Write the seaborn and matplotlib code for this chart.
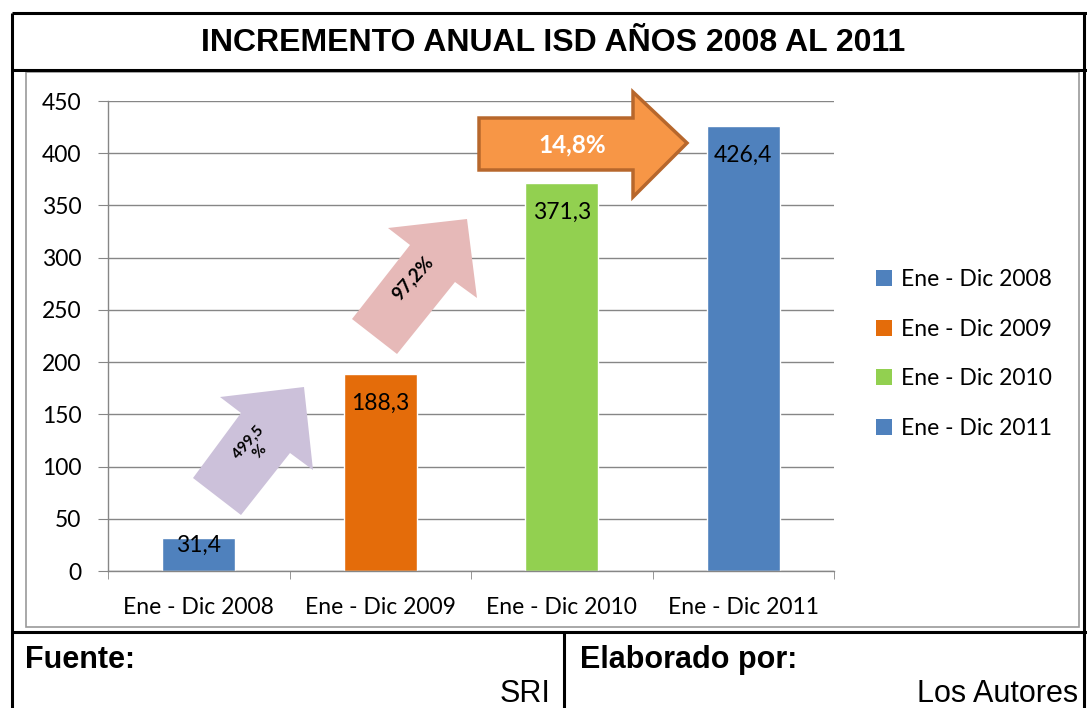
import numpy as np
import pandas as pd
import matplotlib
matplotlib.use('Agg')
import matplotlib.pyplot as plt
import seaborn as sns
from matplotlib.patches import Polygon, Rectangle, Patch

# datos del grafico
periodos = ['Ene - Dic 2008', 'Ene - Dic 2009', 'Ene - Dic 2010', 'Ene - Dic 2011']
isd = [31.4, 188.3, 371.3, 426.4]
etiquetas = ['31,4', '188,3', '371,3', '426,4']
colores = ['#4F81BD', '#E46C0A', '#92D050', '#4F81BD']
incrementos = ['499,5\n%', '97,2%', '14,8%']
y_ticks = [0, 50, 100, 150, 200, 250, 300, 350, 400, 450]

titulo = 'INCREMENTO ANUAL ISD AÑOS 2008 AL 2011'
fuente = ('Fuente:', 'SRI')
elaborado = ('Elaborado por:', 'Los Autores')

W, H = 1087, 708
GRIS = '#868686'
FS = 16.5

sns.set_style('white')
plt.rcParams['font.family'] = ['Lato', 'DejaVu Sans']
plt.rcParams['text.color'] = 'black'
plt.rcParams['xtick.color'] = 'black'
plt.rcParams['ytick.color'] = 'black'

fig = plt.figure(figsize=(W / 100, H / 100), dpi=100)
fig.patch.set_facecolor('white')

# area del grafico (pixeles 108..834 en x, 101..571 en y)
ax = fig.add_axes([108 / W, 1 - 571 / H, 726 / W, 470 / H])
df = pd.DataFrame({'periodo': periodos, 'isd': isd})
sns.barplot(data=df, x='periodo', y='isd', hue='periodo', palette=colores,
            width=0.4, saturation=1, legend=False, ax=ax)

for i, (v, lab) in enumerate(zip(isd, etiquetas)):
    ax.text(i, v - min(28, 0.22 * v), lab, ha='center', va='center', fontsize=FS, color='black')

ax.set_xlim(-0.5, 3.5)
ax.set_ylim(0, 450)
ax.set_yticks(y_ticks)
ax.yaxis.grid(True, color=GRIS, lw=1)
ax.set_axisbelow(True)
ax.set_xlabel('')
ax.set_ylabel('')
for s in ['top', 'right']:
    ax.spines[s].set_visible(False)
for s in ['left', 'bottom']:
    ax.spines[s].set_color(GRIS)
    ax.spines[s].set_linewidth(1)

ax.tick_params(axis='y', left=True, length=7, color=GRIS, labelcolor='black', pad=12, labelsize=FS)
ax.set_xticks(range(len(periodos)))
ax.set_xticklabels(periodos)
ax.tick_params(axis='x', which='major', bottom=False, length=0, pad=19, labelsize=FS,
               labelcolor='black')
ax.set_xticks(np.arange(-0.5, len(periodos), 1), minor=True)
ax.tick_params(axis='x', which='minor', bottom=True, length=6, color=GRIS)

handles = [Patch(facecolor=c, edgecolor='none') for c in colores]
fig.legend(handles, periodos, loc='center left', bbox_to_anchor=(876 / W, 1 - 354 / H),
           frameon=False, fontsize=FS, handlelength=0.68, handleheight=0.68,
           handletextpad=0.4, labelspacing=1.25, borderpad=0, borderaxespad=0)

# capa superior en pixeles: marco, flechas y textos
ov = fig.add_axes([0, 0, 1, 1])
ov.set_xlim(0, W)
ov.set_ylim(H, 0)
ov.axis('off')

ov.add_patch(Rectangle((26, 72), 1053, 555, fill=False, edgecolor='#9a9a9a', lw=1.2))
lineas = [([12, W], [13, 13]), ([12, 12], [13, H]), ([12, W], [70, 70]),
          ([12, W], [632, 632]), ([564, 564], [632, H]), ([1084, 1084], [13, H])]
for xs, ys in lineas:
    ov.plot(xs, ys, color='black', lw=2.2, solid_capstyle='butt')

ov.text(553, 43, titulo, ha='center', va='center', fontsize=23, fontweight='bold',
        family='Liberation Sans')
ov.text(25, 660, fuente[0], ha='left', va='center', fontsize=22, fontweight='bold',
        family='Liberation Sans')
ov.text(550, 694, fuente[1], ha='right', va='center', fontsize=22, family='Liberation Sans')
ov.text(580, 660, elaborado[0], ha='left', va='center', fontsize=22, fontweight='bold',
        family='Liberation Sans')
ov.text(1078, 694, elaborado[1], ha='right', va='center', fontsize=22, family='Liberation Sans')

flecha_morada = [(304, 387), (313, 470), (290, 453), (241, 515), (193, 478), (241, 413), (220, 397)]
flecha_rosa = [(467, 219), (477, 298), (455, 282), (397, 354), (352, 319), (410, 245), (388, 228)]
flecha_naranja = [(479, 118), (633, 118), (633, 92), (687, 143), (633, 197), (633, 170), (479, 170)]

ov.add_patch(Polygon(flecha_morada, closed=True, facecolor='#CCC1DA', edgecolor='none'))
ov.add_patch(Polygon(flecha_rosa, closed=True, facecolor='#E6B9B8', edgecolor='none'))
ov.add_patch(Polygon(flecha_naranja, closed=True, facecolor='#F79646', edgecolor='#B7672C',
                     lw=2.5, joinstyle='miter'))

ov.text(254, 447, incrementos[0], rotation=48, rotation_mode='anchor', ha='center', va='center',
        fontsize=11, fontweight='bold', multialignment='center', linespacing=1.0)
ov.text(413, 278, incrementos[1], rotation=48, rotation_mode='anchor', ha='center', va='center',
        fontsize=13.5, fontweight='bold')
ov.text(572, 145, incrementos[2], ha='center', va='center', fontsize=17.5, fontweight='bold',
        color='white')

fig.savefig('out.png', dpi=100)
